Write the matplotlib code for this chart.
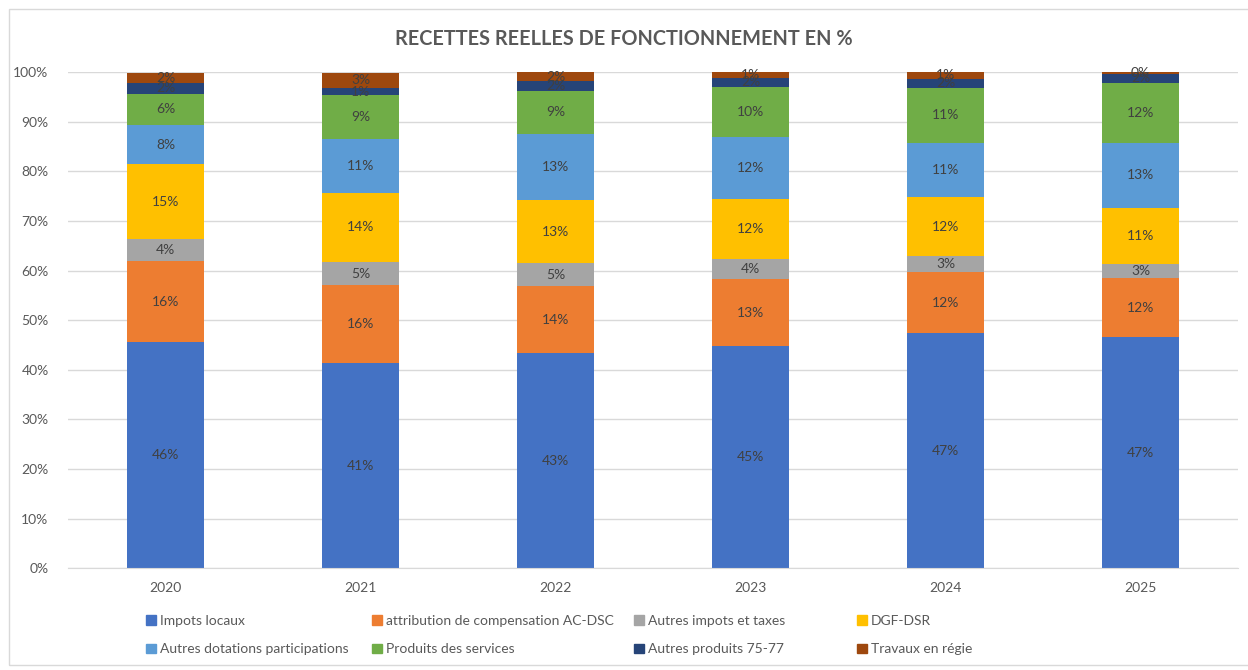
import matplotlib
matplotlib.use("Agg")
import matplotlib.pyplot as plt
from matplotlib.patches import Rectangle, Patch
from matplotlib.ticker import PercentFormatter
import numpy as np

YEARS = ["2020", "2021", "2022", "2023", "2024", "2025"]
SERIES = [
    "Impots locaux",
    "attribution de compensation AC-DSC",
    "Autres impots et taxes",
    "DGF-DSR",
    "Autres dotations participations",
    "Produits des services",
    "Autres produits 75-77",
    "Travaux en régie",
]
impots_locaux = [45.6, 41.3, 43.3, 44.8, 47.4, 46.6]
attribution_ac_dsc = [16.3, 15.7, 13.6, 13.4, 12.3, 11.9]
autres_impots = [4.4, 4.8, 4.6, 4.2, 3.2, 2.8]
dgf_dsr = [15.1, 13.9, 12.7, 12.1, 11.9, 11.3]
autres_dotations = [8.0, 10.9, 13.4, 12.4, 10.9, 13.2]
produits_services = [6.2, 8.8, 8.7, 10.1, 11.2, 12.0]
autres_produits = [2.3, 1.4, 1.9, 1.9, 1.8, 1.9]
travaux_regie = [2.0, 3.1, 1.8, 1.1, 1.3, 0.4]

VALUES = [impots_locaux, attribution_ac_dsc, autres_impots, dgf_dsr,
          autres_dotations, produits_services, autres_produits, travaux_regie]
COLORS = ["#4472C4", "#ED7D31", "#A5A5A5", "#FFC000",
          "#5B9BD5", "#70AD47", "#264478", "#9E480E"]

plt.rcParams["font.family"] = ["Lato", "DejaVu Sans"]
TEXT_COLOR = "#595959"

fig = plt.figure(figsize=(12.48, 6.7), dpi=100)
ax = fig.add_axes([0.0545, 0.152, 0.9375, 0.7403])

x = np.arange(len(YEARS))
bottom = np.zeros(len(YEARS))
for name, values, color in zip(SERIES, VALUES, COLORS):
    values = np.array(values)
    bars = ax.bar(x, values, bottom=bottom, width=0.395, color=color, label=name, zorder=2)
    labels = [f"{v:.0f}%" for v in values]
    ax.bar_label(bars, labels=labels, label_type="center", color="#404040", fontsize=10)
    bottom += values

ax.set_xlim(-0.5, len(YEARS) - 0.5)
ax.set_ylim(0, 100)
ax.set_yticks(range(0, 101, 10))
ax.yaxis.set_major_formatter(PercentFormatter(decimals=0))
ax.set_xticks(x, YEARS)
ax.tick_params(length=0, colors=TEXT_COLOR, labelsize=10)
ax.tick_params(axis="y", pad=14)
ax.tick_params(axis="x", pad=10)
ax.grid(axis="y", color="#D9D9D9", linewidth=1, zorder=0)
for side in ["top", "right", "left"]:
    ax.spines[side].set_visible(False)
ax.spines["bottom"].set_color("#D9D9D9")

fig.text(0.5, 0.942, "RECETTES REELLES DE FONCTIONNEMENT EN %", ha="center", va="center",
         fontsize=14.3, fontweight="bold", color=TEXT_COLOR)

# legend: 4 columns placed like the original grid
col_x = [146, 372, 634, 857]
for col, px in enumerate(col_x):
    handles = [Patch(color=COLORS[col]), Patch(color=COLORS[col + 4])]
    names = [SERIES[col], SERIES[col + 4]]
    fig.legend(handles, names, loc="upper left", bbox_to_anchor=(px / 1248, 1 - 615 / 670),
               frameon=False, fontsize=10, labelcolor=TEXT_COLOR, handlelength=0.7,
               handleheight=0.7, handletextpad=0.3, labelspacing=1.18, borderpad=0,
               borderaxespad=0)

fig.patches.append(Rectangle((9 / 1248, 5 / 670), 1.1, 656 / 670, transform=fig.transFigure,
                             fill=False, edgecolor="#D9D9D9", linewidth=1))

fig.savefig("out.png", dpi=100)
